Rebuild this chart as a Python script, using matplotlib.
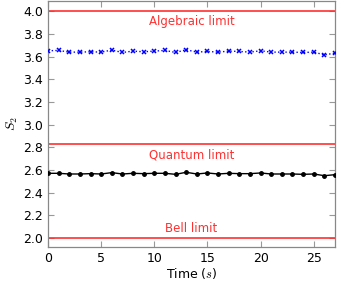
import matplotlib
matplotlib.use("Agg")
import matplotlib.pyplot as plt

t = list(range(28))
s_blue = [3.651, 3.654, 3.639, 3.639, 3.642, 3.639, 3.657, 3.636, 3.648, 3.642,
          3.648, 3.654, 3.636, 3.660, 3.639, 3.645, 3.639, 3.648, 3.645, 3.639,
          3.651, 3.639, 3.639, 3.639, 3.636, 3.639, 3.615, 3.630]
s_black = [2.570, 2.570, 2.564, 2.564, 2.567, 2.564, 2.576, 2.564, 2.570, 2.567,
           2.570, 2.570, 2.561, 2.579, 2.564, 2.573, 2.564, 2.570, 2.567, 2.567,
           2.573, 2.564, 2.564, 2.564, 2.561, 2.564, 2.549, 2.558]
limits = [4.0, 2.828, 2.0]
limit_labels = ["Algebraic limit", "Quantum limit", "Bell limit"]
label_y = [3.905, 2.735, 2.085]
xticks = [0, 5, 10, 15, 20, 25]
yticks = [2.0, 2.2, 2.4, 2.6, 2.8, 3.0, 3.2, 3.4, 3.6, 3.8, 4.0]

plt.rcParams['font.family'] = ['DejaVu Sans']
plt.rcParams['mathtext.fontset'] = 'cm'

fig = plt.figure(figsize=(3.37, 2.89), dpi=100)
ax = fig.add_axes([48/337, 1 - 247/289, 287/337, 246/289])

for y in limits:
    ax.axhline(y, color='#ff3030', lw=1.2, zorder=2)
for y, lab in zip(label_y, limit_labels):
    ax.text(13.5, y, lab, color='#ff3030', ha='center', va='center', fontsize=8.5)

ax.plot(t, s_blue, color='blue', ls=':', lw=1.0, marker='x', ms=3, mew=1.1, zorder=3)
ax.plot(t, s_black, color='black', ls='-', lw=1.0, marker='o', ms=2.5, zorder=3)

ax.set_xlim(0, 27)
ax.set_ylim(1.92, 4.09)
ax.set_xticks(xticks)
ax.set_yticks(yticks)
ax.set_yticklabels([f"{v:.1f}" for v in yticks])
ax.tick_params(direction='in', top=True, right=True, length=4, color='#999999',
               labelsize=9, pad=3.5)
for sp in ax.spines.values():
    sp.set_color('#888888')
    sp.set_linewidth(0.9)
ax.set_xlabel(r"Time ($s$)", fontsize=9, labelpad=1)
ax.set_ylabel(r"$S_2$", fontsize=10, labelpad=2)

fig.savefig("out.png", dpi=100)
